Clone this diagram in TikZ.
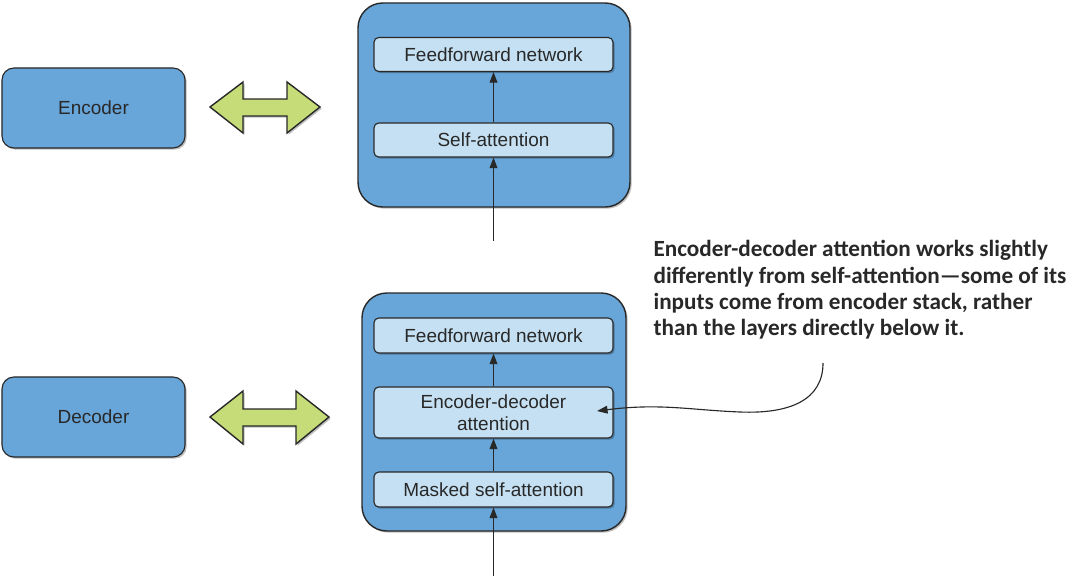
\documentclass[tikz,border=0pt]{standalone}
\usepackage{fontspec}
\setmainfont{Liberation Sans}
\newfontfamily\notefont[Ligatures=TeX]{Carlito}
\usetikzlibrary{arrows.meta}
\usetikzlibrary{shadows}
\definecolor{stackblue}{RGB}{104,165,216}
\definecolor{layerblue}{RGB}{197,224,242}
\definecolor{arrowgreen}{RGB}{197,220,120}
\definecolor{inkgray}{RGB}{40,40,40}
\tikzset{
every picture/.style={
line width=0.8pt
},
softshadow/.style={drop shadow={shadow xshift=1.2pt,shadow yshift=-1.2pt,fill=black,opacity=0.25}},
blockbox/.style={draw=inkgray,fill=stackblue,rounded corners=0.3cm,softshadow,
  minimum width=4.575cm,minimum height=2cm,font=\fontsize{13.5}{16}\selectfont,text=inkgray},
stackbox/.style={draw=inkgray,fill=stackblue,rounded corners=0.62cm,line width=1pt,softshadow},
layerbox/.style={draw=inkgray,fill=layerblue,rounded corners=0.12cm,softshadow,
  minimum width=5.975cm,minimum height=0.85cm,align=center,
  font=\fontsize{13.5}{15.5}\selectfont,text=inkgray},
bigarrow/.style={draw=inkgray,fill=arrowgreen,line width=1pt,line join=miter,softshadow},
flow/.style={draw=inkgray,line width=0.8pt,-{Triangle[length=7.5pt,width=5.5pt]}}
}

\begin{document}
\begin{tikzpicture}[x=0.025cm,y=-0.025cm]
  \useasboundingbox (0,0) rectangle (1075,578);

  % encoder side
  \node [blockbox] at (93.5, 108) (enc) {Encoder};
  \draw [bigarrow] (210,107) -- (243,82) -- (243,99) -- (287,99) -- (287,82)
    -- (320,107) -- (287,133) -- (287,116) -- (243,116) -- (243,133) -- cycle;

  \draw [stackbox] (358,3) rectangle (630,207);
  \node [layerbox] at (493.5, 54.5) (encff) {Feedforward network};
  \node [layerbox] at (493.5, 140) (encsa) {Self-attention};
  \coordinate (encin) at (493.5, 241);
  \draw [flow] (encsa) -- (encff);
  \draw [flow] (encin) -- (encsa);

  % decoder side
  \node [blockbox] at (93.5, 417) (dec) {Decoder};
  \draw [bigarrow] (210,417) -- (243,391) -- (243,409) -- (296,409) -- (296,391)
    -- (329,417) -- (296,444) -- (296,426) -- (243,426) -- (243,444) -- cycle;

  \draw [stackbox] (362,293) rectangle (626,531);
  \node [layerbox,minimum height=0.875cm] at (493.5, 335.5) (decff) {Feedforward network};
  \node [layerbox,minimum height=1.275cm] at (493.5, 412.5) (decatt) {Encoder-decoder\\attention};
  \node [layerbox,minimum height=0.875cm] at (493.5, 489.5) (decmsa) {Masked self-attention};
  \coordinate (decin) at (493.5, 576);
  \draw [flow] (decatt) -- (decff);
  \draw [flow] (decmsa) -- (decatt);
  \draw [flow] (decin) -- (decmsa);

  % note on encoder-decoder attention
  \node [anchor=north west,align=left,inner sep=0pt,text=inkgray,
    font=\notefont\bfseries\fontsize{16.5}{18.6}\selectfont] at (653, 240) (note)
    {Encoder-decoder attention works slightly\\differently from self-attention---some of its\\inputs come from encoder stack, rather\\than the layers directly below it.};
  \coordinate (notefoot) at (823, 363);
  \coordinate (atttip) at (597, 411);
  \draw [flow] (notefoot) .. controls (823,400) and (790,414) .. (740,412)
    .. controls (690,410) and (660,403) .. (atttip);

\end{tikzpicture}
\end{document}
